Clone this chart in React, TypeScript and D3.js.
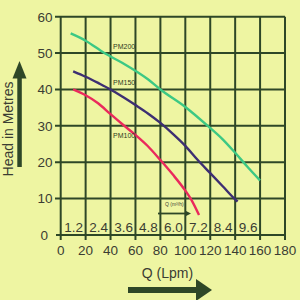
import React from "react";
import * as d3 from "d3";

const qTicks = [0, 20, 40, 60, 80, 100, 120, 140, 160, 180];
const headTicks = [0, 10, 20, 30, 40, 50, 60];
const m3hLabels = ["1.2", "2.4", "3.6", "4.8", "6.0", "7.2", "8.4", "9.6"];

const pm200Q = [8, 20, 35, 50, 70, 80, 100, 118, 130, 140, 150, 160];
const pm200H = [55.4, 53.4, 50, 47.2, 42.8, 40, 35.2, 30, 26.3, 22.6, 18.7, 15];
const pm150Q = [10, 20, 30, 40, 50, 60, 70, 80, 90, 100, 110, 120, 130, 140, 142];
const pm150H = [45, 43.5, 41.8, 40, 37.9, 35.7, 33.4, 30.8, 27.8, 24.5, 20.6, 17, 13.4, 9.8, 9.2];
const pm100Q = [10, 20, 30, 40, 50, 60, 70, 80, 90, 100, 105, 111];
const pm100H = [40, 38.4, 36.2, 33.2, 30.3, 27.5, 24.4, 20.6, 16.6, 12.2, 9.6, 5.5];

const seriesNames = ["PM200", "PM150", "PM100"];
const seriesColors = ["#3cc884", "#3d2f72", "#ea2a5c"];
const labelQ = [42, 42, 42];
const labelH = [51.7, 42, 27.4];

export default function App() {
  const x = d3.scaleLinear().domain([0, 180]).range([60.7, 285]);
  const y = d3.scaleLinear().domain([0, 60]).range([235, 16.7]);
  const grid = "#2e4727";
  const txt = "#3b3d33";
  const narrow = "'Liberation Sans Narrow', 'Liberation Sans', Arial, sans-serif";
  const series = [
    pm200Q.map((q, i) => [q, pm200H[i]] as [number, number]),
    pm150Q.map((q, i) => [q, pm150H[i]] as [number, number]),
    pm100Q.map((q, i) => [q, pm100H[i]] as [number, number]),
  ];
  const line = d3
    .line<[number, number]>()
    .x((d) => x(d[0]))
    .y((d) => y(d[1]))
    .curve(d3.curveMonotoneX);

  return (
    <svg
      width={300}
      height={300}
      style={{ position: "fixed", left: 0, top: 0 }}
      xmlns="http://www.w3.org/2000/svg"
    >
      <rect x={0} y={0} width={300} height={300} fill="#eef5a2" />
      {/* grid horizontal */}
      {headTicks.map((h) => (
        <line key={"h" + h} x1={h === 0 ? 56 : 55} x2={x(180)} y1={y(h)} y2={y(h)} stroke={grid} strokeWidth={2} />
      ))}
      {qTicks.map((q) => (
        <line key={"v" + q} x1={x(q)} x2={x(q)} y1={y(60)} y2={y(0) + 5} stroke={grid} strokeWidth={2} />
      ))}
      {/* curves */}
      {series.map((s, i) => (
        <path key={"s" + i} d={line(s) || ""} fill="none" stroke={seriesColors[i]} strokeWidth={2.4} />
      ))}
      {seriesNames.map((n, i) => (
        <text
          key={"n" + i}
          x={x(labelQ[i])}
          y={y(labelH[i])}
          dy="0.35em"
          fontFamily="Arial, 'Liberation Sans', sans-serif"
          fontSize={7}
          fill="#2e3a22"
        >
          {n}
        </text>
      ))}
      {/* y tick labels */}
      {headTicks.map((h) => (
        <text
          key={"yl" + h}
          x={h === 0 ? 48 : 52.5}
          y={y(h)}
          dy="0.36em"
          textAnchor="end"
          fontFamily={narrow}
          fontSize={13.5}
          fill={txt}
        >
          {h}
        </text>
      ))}
      {/* x tick labels */}
      {qTicks.map((q) => (
        <text
          key={"xl" + q}
          x={x(q)}
          y={255}
          textAnchor="middle"
          fontFamily={narrow}
          fontSize={13.5}
          fill={txt}
        >
          {q}
        </text>
      ))}
      {/* m3/h labels */}
      {m3hLabels.map((l, i) => (
        <text
          key={"m" + l}
          x={x(qTicks[i + 1]) - 2.5}
          y={232}
          textAnchor="end"
          fontFamily={narrow}
          fontSize={13.5}
          fill={txt}
        >
          {l}
        </text>
      ))}
      {/* Q (m3/h) small label and arrow */}
      <text x={165} y={206} fontFamily="Arial, sans-serif" fontSize={5} fill={txt}>
        Q (m³/h)
      </text>
      <line x1={158} x2={187} y1={213.5} y2={213.5} stroke={grid} strokeWidth={1.8} />
      <path d="M185,210.5 L191,213.5 L185,216.5 Z" fill={grid} />
      {/* Q (Lpm) */}
      <text x={167.5} y={277.5} textAnchor="middle" fontFamily={narrow} fontSize={14} fill={txt}>
        Q (Lpm)
      </text>
      <rect x={128} y={287} width={70} height={6} fill={grid} />
      <path d="M196,279 L212,290 L196,301 Z" fill={grid} />
      {/* Head in Metres */}
      <text
        transform="translate(12.5,129) rotate(-90)"
        textAnchor="middle"
        fontFamily="Arial, 'Liberation Sans', sans-serif"
        fontSize={14}
        fill={txt}
      >
        Head in Metres
      </text>
      <rect x={17.3} y={76} width={4.5} height={91} fill={grid} />
      <path d="M12.5,78.5 L19.5,61 L26.5,78.5 Z" fill={grid} />
    </svg>
  );
}
